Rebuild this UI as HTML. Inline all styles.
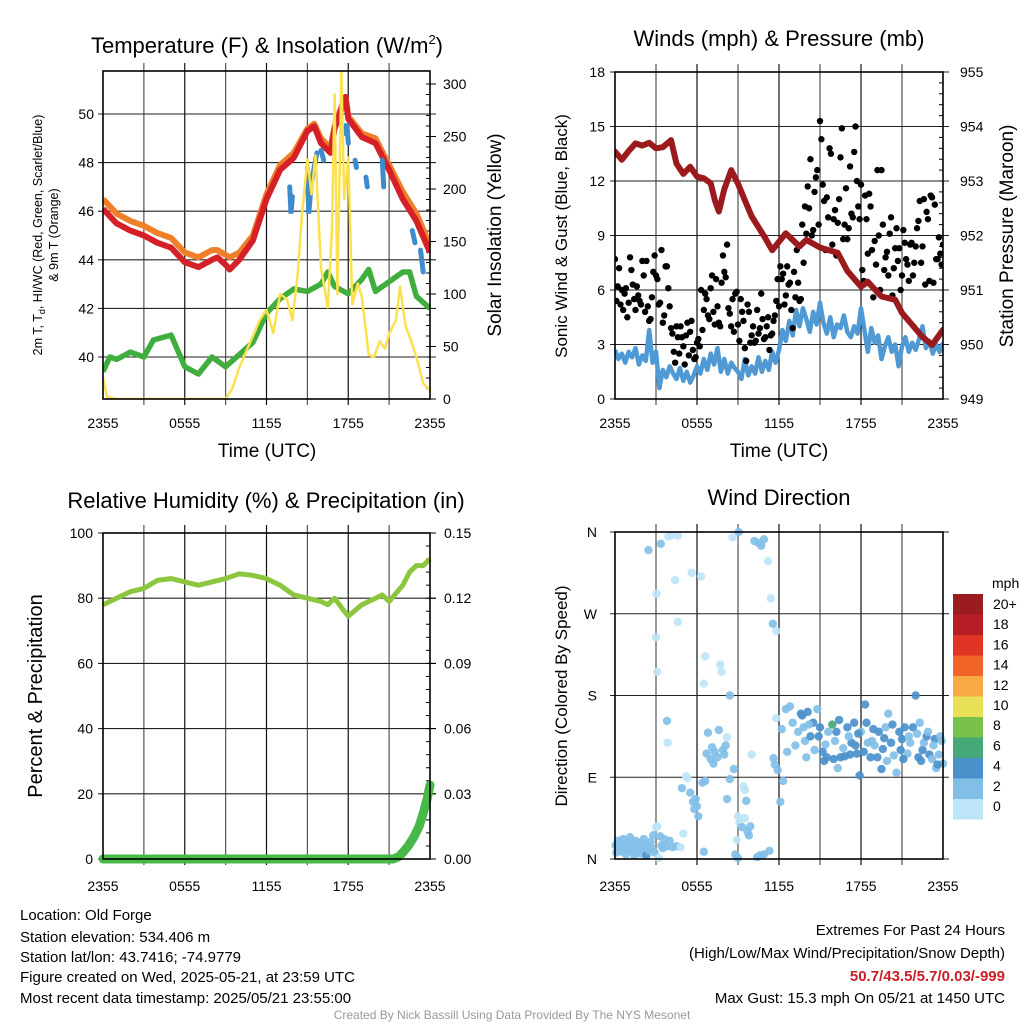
<!DOCTYPE html>
<html><head><meta charset="utf-8">
<style>
html,body{margin:0;padding:0;background:#fff;}
svg{display:block;font-family:"Liberation Sans",Arial,sans-serif;}
</style></head>
<body>
<svg id="c" width="1024" height="1024" viewBox="0 0 1024 1024">
<rect x="0" y="0" width="1024" height="1024" fill="#fff"/>
<text x="267" y="53" font-size="22" text-anchor="middle">Temperature (F) &amp; Insolation (W/m<tspan font-size="13" dy="-9">2</tspan><tspan dy="9">)</tspan></text>
<text x="779" y="46" font-size="22" text-anchor="middle">Winds (mph) &amp; Pressure (mb)</text>
<text x="266" y="508" font-size="22" text-anchor="middle">Relative Humidity (%) &amp; Precipitation (in)</text>
<text x="779" y="505" font-size="22" text-anchor="middle">Wind Direction</text>

<text x="267" y="457" font-size="19" text-anchor="middle">Time (UTC)</text>
<text x="779" y="457" font-size="19" text-anchor="middle">Time (UTC)</text>

<text transform="translate(42,235) rotate(-90)" font-size="12.5" text-anchor="middle">2m T, T<tspan font-size="9" dy="3">d</tspan><tspan dy="-3">, HI/WC (Red, Green, Scarlet/Blue)</tspan></text>
<text transform="translate(58,235) rotate(-90)" font-size="12.5" text-anchor="middle">&amp; 9m T (Orange)</text>
<text transform="translate(501,235) rotate(-90)" font-size="19" text-anchor="middle">Solar Insolation (Yellow)</text>
<text transform="translate(567,236) rotate(-90)" font-size="17" text-anchor="middle">Sonic Wind &amp; Gust (Blue, Black)</text>
<text transform="translate(1013,236) rotate(-90)" font-size="19" text-anchor="middle">Station Pressure (Maroon)</text>
<text transform="translate(42,696) rotate(-90)" font-size="20" text-anchor="middle">Percent &amp; Precipitation</text>
<text transform="translate(567,696) rotate(-90)" font-size="17" text-anchor="middle">Direction (Colored By Speed)</text>

<g font-size="15">
<text x="20" y="920">Location: Old Forge</text>
<text x="20" y="942">Station elevation: 534.406 m</text>
<text x="20" y="962">Station lat/lon: 43.7416; -74.9779</text>
<text x="20" y="982">Figure created on Wed, 2025-05-21, at 23:59 UTC</text>
<text x="20" y="1003">Most recent data timestamp: 2025/05/21 23:55:00</text>
</g>
<g font-size="15" text-anchor="end">
<text x="1005" y="935">Extremes For Past 24 Hours</text>
<text x="1005" y="958">(High/Low/Max Wind/Precipitation/Snow Depth)</text>
<text x="1005" y="981" fill="#c8202a" font-weight="bold">50.7/43.5/5.7/0.03/-999</text>
<text x="1005" y="1003">Max Gust: 15.3 mph On 05/21 at 1450 UTC</text>
</g>
<text x="512" y="1019" font-size="12" fill="#999" text-anchor="middle">Created By Nick Bassill Using Data Provided By The NYS Mesonet</text>
</svg>
<script>
// ---------- Panel 1 data ----------
const tTimes = [0,1,2,3,4,5,6,7,8,8.4,9,9.3,10,11,12,13,14,15,15.5,16,16.7,17,17.5,17.8,18,19,20,21,22,23,24];
const redT   = [46.1,45.5,45.2,45.0,44.7,44.5,43.9,43.7,44.0,44.1,43.8,43.6,44.0,44.8,46.5,47.7,48.2,49.3,49.5,48.8,48.4,49.4,50.2,50.7,49.8,49.05,48.8,47.7,46.5,45.6,44.3];
const orangeT= [46.5,45.9,45.6,45.4,45.1,44.9,44.3,44.1,44.4,44.4,44.2,44.1,44.3,45.0,46.7,47.9,48.4,49.4,49.6,49.0,48.6,49.5,50.3,50.7,49.9,49.2,49.0,47.9,46.8,45.9,44.6];
const dewTimes = [0,0.5,1,2,3,3.7,5,6,7,8,9,10,11,12,13,14,15,16,16.5,17,18,19,19.5,20,21,22,22.5,23,24];
const dewT   = [39.4,40.0,39.9,40.2,40.0,40.7,40.9,39.6,39.3,40.0,39.6,40.1,40.6,41.8,42.4,42.8,42.7,43.0,43.5,42.9,42.6,43.2,43.6,42.7,43.1,43.5,43.5,42.5,42.0];
const hiTimes = [13.7,13.8,13.9,null,15.0,15.1,15.3,15.7,null,16.0,16.2,null,17.7,17.9,18.0,null,18.5,18.6,null,19.3,19.4,null,20.5,20.6,null,22.7,22.9,null,23.3,23.5];
const hiVals  = [47.0,45.9,46.6,null,47.8,45.9,47.2,48.4,null,48.5,48.1,null,49.2,49.6,48.8,null,48.1,47.8,null,47.4,47.0,null,48.1,47.0,null,45.2,44.7,null,44.4,43.5];
const solTimes = [0,0.3,1,9,9.5,10,10.5,11,11.5,12,12.5,13,13.5,13.9,14.3,14.6,15,15.3,15.6,16,16.5,16.8,17,17.2,17.5,17.7,18,18.3,18.7,19,19.5,19.9,20.3,20.7,21,21.5,21.8,22.2,22.6,23,23.5,24];
const solVals  = [20,2,0,0,10,30,45,60,75,85,63,100,95,75,120,175,228,195,232,125,87,160,290,100,311,190,230,90,110,97,42,40,55,48,62,75,107,70,56,40,15,8];
const tempTicks = [40,42,44,46,48,50];
const solTicks = [0,50,100,150,200,250,300];
const timeLabels = ["2355","0555","1155","1755","2355"];
// ---------- Panel 2 data ----------
const presTimes = [0,0.5,1,1.5,2,2.5,3,3.5,4.1,4.5,5,5.5,6,6.5,7,7.3,7.6,8,8.5,9,9.5,10,10.5,11,11.5,12.5,13.5,14,15,16.3,17,18,18.5,19.5,20.5,21,22.5,23.2,24];
const presVals  = [953.54,953.39,953.55,953.69,953.65,953.7,953.6,953.62,953.75,953.32,953.13,953.26,953.08,953.05,952.96,952.65,952.44,952.85,953.2,952.95,952.65,952.35,952.15,951.95,951.73,952.04,951.8,951.92,951.78,951.68,951.35,951.06,951.15,950.88,950.82,950.58,950.14,949.99,950.27];
const sonicVals = [2.7,2.2,2.5,2.0,2.6,2.3,2.8,1.9,2.4,2.1,3.8,2.0,
2.6,0.6,1.6,1.2,1.8,1.4,1.1,1.7,1.0,1.5,0.9,1.3,
1.8,1.4,2.2,1.6,2.5,1.9,2.8,1.5,2.2,1.4,2.0,1.7,
1.5,1.1,2.2,1.3,1.8,1.4,2.3,1.5,2.1,1.6,2.6,2.0,
2.7,3.8,3.2,4.3,3.5,4.9,4.0,5.0,4.4,3.7,4.8,4.1,
5.3,4.2,3.6,4.5,3.4,4.1,3.9,4.6,3.7,3.4,4.0,3.6,
5.0,3.8,2.6,3.9,3.1,3.5,2.2,2.9,3.4,2.6,3.0,1.8,
2.9,3.4,2.6,3.1,2.7,3.3,4.0,2.8,3.2,2.5,3.0,2.6,3.1];
const gustA = [7.7,6.2,5.2,4.9,6.1,5.3,7.1,5.5,6.2,5.4,7.6,
4.8,5.1,4.4,7.0,6.8,5.2,8.2,4.6,7.3,5.1,
3.6,2.0,3.4,4.0,2.9,3.5,2.4,4.3,2.2,3.1,
2.9,3.8,5.8,4.6,6.1,4.8,6.6,4.2,6.4,7.0,
8.5,4.7,5.5,5.8,4.1,5.5,4.3,2.1,4.8,3.5,
3.1,4.9,3.9,4.4,3.4,4.5,3.5,4.3,5.4,5.1,
6.6,5.2,7.3,6.4,3.9,5.6,6.4,5.5,7.5,9.1,
10.5,9.0,11.4,12.6,15.3,11.8,8.2,10.0,13.5,9.9,
7.9,11.0,14.9,9.6,8.8,12.8,10.0,15.0,10.6,11.8,
6.5,9.9,11.3,8.2,8.7,12.6,6.0,9.6,7.8,6.8,
10.0,7.2,9.4,8.3,6.8,8.6,7.4,8.5,6.8,8.4,
9.8,7.5,11.0,10.3,6.5,11.1,10.7,7.7,8.0,8.5];
const gustB = [5.4,7.2,6.0,5.8,4.5,7.8,6.3,4.9,5.7,5.2,
6.8,7.6,4.3,5.6,7.9,6.6,5.3,4.2,7.3,6.1,
3.9,2.6,4.0,2.5,3.4,1.9,4.2,3.7,2.7,2.3,
3.3,6.0,4.9,5.5,4.4,6.8,4.1,5.1,4.0,7.9,
6.7,5.0,4.0,3.7,5.9,3.2,4.8,2.8,5.2,3.1,
4.0,3.2,3.6,5.8,3.3,4.0,2.7,3.6,4.6,6.6,
7.3,6.9,5.7,6.3,4.9,7.0,8.2,5.4,9.6,10.6,
11.7,13.2,9.3,12.2,9.6,14.3,10.9,11.1,13.8,8.5,
10.4,9.7,13.3,8.8,11.6,9.4,10.2,13.6,12.0,9.9,
7.1,11.2,8.0,10.6,5.6,7.4,9.0,12.6,7.1,8.1,
9.1,5.7,8.3,7.6,6.0,9.3,7.7,6.5,8.6,7.5,
9.4,10.9,8.4,6.3,9.9,11.2,6.4,7.7,8.9,7.4];
const windTicks = [0,3,6,9,12,15,18];
const presTicks = [949,950,951,952,953,954,955];
// ---------- Panel 3 data ----------
const rhTimes = [0,1,2,3,4,5,6,7,8,9,10,11,12,13,14,15,16,16.5,17,17.7,18,19,20,20.5,21,22,22.5,23,23.5,24];
const rhVals  = [78,80,82,83,85.5,86,85,84,85,86,87.5,87,86,84,81,80,79,78,80,76,74.5,78,80,81,79,84,88,90,90,92];
const prTimes = [0,21.3,21.7,22,22.4,22.8,23.2,23.5,23.8,24];
const prVals  = [0,0,0.001,0.003,0.006,0.010,0.015,0.021,0.028,0.034];
const rhTicks = [0,20,40,60,80,100];
const prTicks = ["0.00","0.03","0.06","0.09","0.12","0.15"];
// ---------- Panel 4 data ----------
const dirT = [0.05,0.1,0.2,0.3,0.4,0.5,0.6,0.7,0.8,0.9,1.0,1.1,1.2,1.3,1.4,1.5,1.6,1.7,1.8,1.9,2.0,2.1,2.2,2.3,2.4,2.5,2.6,2.7,2.8,2.9,3.0,3.1,3.2,3.3,3.4,3.5,3.6,3.8,4.0,4.2,4.5,4.8,5.0,
2.45,3.35,3.9,4.1,4.6,3.05,3.0,3.1,3.8,3.85,4.4,4.6,5.6,6.3,6.6,6.5,7.7,7.8,8.4,8.6,9.05,10.0,10.2,10.5,10.7,10.9,11.2,11.4,11.55,11.8,
4.9,5.2,5.3,5.5,5.7,5.8,6.0,6.1,5.9,6.4,6.6,6.7,6.8,7.0,7.1,7.3,7.5,7.6,7.9,8.0,8.1,8.2,8.2,8.4,8.7,7.2,9.0,9.1,9.3,9.5,9.7,9.9,8.9,8.8,9.0,9.4,9.5,9.6,9.8,10.4,10.6,10.9,11.3,6.5,
11.6,11.7,11.9,12.3,12.1,11.8,12.2,12.5,12.8,13.0,13.4,13.6,13.7,13.9,14.1,14.3,14.5,14.6,14.8,15.0,15.2,15.3,15.5,15.6,16.0,16.2,16.4,16.5,16.8,17.0,17.2,17.3,17.5,17.7,17.9,18.0,18.3,18.4,18.5,18.7,18.9,19.0,19.3,19.5,19.6,19.8,20.0,20.2,20.4,20.6,20.8,21.0,21.2,21.4,21.6,21.8,22.0,22.1,22.3,22.5,22.6,22.8,23.0,23.2,23.4,23.5,23.7,23.9,24.0,
13.2,13.8,14.2,14.9,15.4,16.1,16.7,17.1,17.6,18.2,18.8,19.2,19.7,20.3,20.9,21.5,22.2,22.9,23.3,23.8,12.6,14.0,16.3,17.8,19.9,21.1,22.4,23.6,15.9];
const dirV = [15,7,20,12,17,8,22,14,5,18,11,24,9,16,4,20,13,8,18,6,14,22,10,4,15,9,19,12,26,7,35,36,1,25,15,12,22,14,20,13,14,13,28,
340,347,355,356,356,292,244,206,152,128,307,261,315,311,223,193,214,206,180,354,360,115,350,348,345,352,328,287,259,251,
78,91,89,73,63,55,58,47,66,84,86,116,139,110,123,118,112,142,120,115,125,134,66,88,99,105,47,40,35,45,30,36,21,5,1,80,76,64,26,2,4,5,9,8,
111,104,98,86,63,155,143,165,168,150,140,160,158,130,162,135,150,120,165,145,118,108,112,140,110,140,153,112,113,145,115,128,150,116,92,140,170,150,128,112,143,125,140,99,121,145,160,128,114,95,140,132,145,116,128,145,180,138,150,120,128,135,115,110,132,100,115,130,105,
125,145,148,135,126,130,122,135,125,118,130,112,133,148,120,135,112,140,125,135,118,112,100,138,108,110,108,104,148];
const dirS = [2,2,2,2,2,2,2,2,2,2,2,2,2,2,2,2,2,2,2,2,2,2,2,4,2,2,2,2,2,2,0,0,0,2,2,2,2,2,2,2,2,0,0,
2,2,0,0,0,0,0,0,2,0,0,0,0,0,0,0,0,0,2,0,2,0,2,2,2,2,0,0,2,0,
2,0,0,2,2,2,2,2,2,2,2,2,2,2,2,2,2,2,2,2,2,0,2,2,2,2,0,0,2,0,2,2,0,2,2,0,0,2,2,2,2,2,2,2,
2,2,2,2,2,0,2,2,2,2,2,4,4,2,4,4,4,2,2,4,4,4,4,2,4,4,4,4,4,4,4,4,4,4,4,2,4,4,2,4,4,2,4,4,4,2,2,4,2,2,4,4,4,2,2,4,4,2,2,4,2,4,4,2,4,2,2,2,2,
2,2,2,4,2,2,2,2,4,4,2,4,4,4,4,2,4,2,2,2,2,2,2,4,2,4,4,4,6];
const cbLabels = ["20+","18","16","14","12","10","8","6","4","2","0"];
const cbColors = ["#9a1c1f","#b81d25","#e03427","#f06428","#f9a944","#e8e056","#78c24c","#46a877","#4a91cc","#82bfe8","#bde5f8"];
const dirLabels = ["N","E","S","W","N"];

// ---------- drawing ----------
const NS="http://www.w3.org/2000/svg";
const svg=document.getElementById('c');
function mk(tag,attrs,parent){const e=document.createElementNS(NS,tag);for(const k in attrs)e.setAttribute(k,attrs[k]);(parent||svg).appendChild(e);return e;}
function pathFrom(xs,ys,fx,fy){let d="",pen=false;for(let i=0;i<xs.length;i++){if(xs[i]===null||ys[i]===null){pen=false;continue;}d+=(pen?"L":"M")+fx(xs[i]).toFixed(1)+","+fy(ys[i]).toFixed(1);pen=true;}return d;}

function frame(x0,x1,y0,y1,name){
  const g=mk('g',{});
  
  
  for(let i=1;i<8;i++){const x=x0+(x1-x0)*i/8;mk('line',{x1:x,x2:x,y1:y0-8,y2:y1+6,stroke:(i%2?'#555':'#111'),'stroke-width':1.2},g);}
  return g;
}
function hgrid(g,x0,x1,y){mk('line',{x1:x0-5,x2:x1+6,y1:y,y2:y,stroke:'#222','stroke-width':1.1},g);}
function border(x0,x1,y0,y1,name){const r=mk('rect',{x:x0,y:y0,width:x1-x0,height:y1-y0,fill:'none',stroke:'#000','stroke-width':1.6});
  
  }
function xlabels(x0,x1,y,name){const g=mk('g',{'font-size':14,'text-anchor':'middle'});
  
  
  timeLabels.forEach((l,i)=>{const t=mk('text',{x:x0+(x1-x0)*i/4,y:y},g);t.textContent=l;});}
function rightMinor(g,x1,ya,yb,n){for(let i=0;i<=n;i++){const y=ya+(yb-ya)*i/n;mk('line',{x1:x1-4,x2:x1,y1:y,y2:y,stroke:'#000','stroke-width':1},g);}}

// Panel 1
{
const X0=103,X1=430,Y0=71,Y1=399;
const fx=t=>X0+t*(X1-X0)/24, fy=v=>114+(50-v)*24.3, fs=s=>399-s*1.05;
const g=frame(X0,X1,Y0,Y1,'temperature');
tempTicks.forEach(v=>hgrid(g,X0,X1,fy(v)));
rightMinor(g,X1,fs(0),fs(300),30);
const tl=mk('g',{'font-size':14,'text-anchor':'end'});


tempTicks.forEach(v=>{const t=mk('text',{x:X0-9,y:fy(v)+5},tl);t.textContent=v;});
const sl=mk('g',{'font-size':14,'text-anchor':'start'});


solTicks.forEach(v=>{mk('line',{x1:X1,x2:X1+6,y1:fs(v),y2:fs(v),stroke:'#000'},sl);const t=mk('text',{x:X1+13,y:fs(v)+5},sl);t.textContent=v;});
const cp=mk('clipPath',{id:'cp1'});mk('rect',{x:X0,y:Y0-2,width:X1-X0,height:Y1-Y0+2},cp);
const lg=mk('g',{'clip-path':'url(#cp1)'});
const o=mk('path',{d:pathFrom(tTimes,orangeT,fx,fy),fill:'none',stroke:'#f07f2a','stroke-width':6,'stroke-linejoin':'round'},lg);


const r=mk('path',{d:pathFrom(tTimes,redT,fx,fy),fill:'none',stroke:'#d42026','stroke-width':6,'stroke-linejoin':'round'},lg);


const h=mk('path',{d:pathFrom(hiTimes,hiVals,fx,fy),fill:'none',stroke:'#3f8ccc','stroke-width':5,'stroke-linecap':'round'},lg);


const dw=mk('path',{d:pathFrom(dewTimes,dewT,fx,fy),fill:'none',stroke:'#3fae3f','stroke-width':5.5,'stroke-linejoin':'round'},lg);


const s=mk('path',{d:pathFrom(solTimes,solVals,fx,fs),fill:'none',stroke:'#fbe14f','stroke-width':2.5,'stroke-linejoin':'round'},lg);


border(X0,X1,Y0,Y1,'temperature');
xlabels(X0,X1,428,'temperature');
}
// Panel 2
{
const X0=615,X1=943,Y0=72,Y1=399;
const fx=t=>X0+t*(X1-X0)/24, fw=w=>399-w*(327/18), fp=p=>72+(955-p)*(327/6);
const g=frame(X0,X1,Y0,Y1,'winds');
windTicks.forEach(v=>hgrid(g,X0,X1,fw(v)));
rightMinor(g,X1,fp(949),fp(955),30);
const wl=mk('g',{'font-size':14,'text-anchor':'end'});


windTicks.forEach(v=>{const t=mk('text',{x:X0-10,y:fw(v)+5},wl);t.textContent=v;});
const pl=mk('g',{'font-size':14,'text-anchor':'start'});


presTicks.forEach(v=>{const t=mk('text',{x:X1+17,y:fp(v)+5},pl);t.textContent=v;});
const cp=mk('clipPath',{id:'cp2'});mk('rect',{x:X0,y:Y0,width:X1-X0,height:Y1-Y0},cp);
const lg=mk('g',{'clip-path':'url(#cp2)'});
const st=sonicVals.map((v,i)=>i*0.25);
const sw=mk('path',{d:pathFrom(st,sonicVals,fx,fw),fill:'none',stroke:'#4f9ad4','stroke-width':4.5,'stroke-linejoin':'round'},lg);


const gg=mk('g',{fill:'#000'},lg);


gustA.forEach((v,i)=>{const c=mk('circle',{cx:fx(i*0.2),cy:fw(v),r:3.2},gg);

});
gustB.forEach((v,i)=>{const c=mk('circle',{cx:fx(0.1+i*0.2),cy:fw(v),r:3.2},gg);

});
const pr=mk('path',{d:pathFrom(presTimes,presVals,fx,fp),fill:'none',stroke:'#9a1a1e','stroke-width':6,'stroke-linejoin':'round','stroke-linecap':'round'},lg);


border(X0,X1,Y0,Y1,'winds');
xlabels(X0,X1,428,'winds');
}
// Panel 3
{
const X0=103,X1=430,Y0=533,Y1=859;
const fx=t=>X0+t*(X1-X0)/24, fr=v=>859-v*3.26, fq=p=>859-p/0.15*326;
const g=frame(X0,X1,Y0,Y1,'humidity');
rhTicks.forEach(v=>hgrid(g,X0,X1,fr(v)));
rightMinor(g,X1,fq(0),fq(0.15),25);
const rl=mk('g',{'font-size':14,'text-anchor':'end'});


rhTicks.forEach(v=>{const t=mk('text',{x:X0-10,y:fr(v)+5},rl);t.textContent=v;});
const ql=mk('g',{'font-size':14,'text-anchor':'start'});


prTicks.forEach(v=>{const y=fq(parseFloat(v));mk('line',{x1:X1,x2:X1+6,y1:y,y2:y,stroke:'#000'},ql);const t=mk('text',{x:X1+14,y:y+5},ql);t.textContent=v;});
const rh=mk('path',{d:pathFrom(rhTimes,rhVals,fx,fr),fill:'none',stroke:'#8cc63f','stroke-width':5,'stroke-linejoin':'round'});


const p=mk('path',{d:pathFrom(prTimes,prVals,fx,fq),fill:'none',stroke:'#48b848','stroke-width':9,'stroke-linejoin':'round','stroke-linecap':'round'});


border(X0,X1,Y0,Y1,'humidity');
xlabels(X0,X1,891,'humidity');
}
// Panel 4
{
const X0=615,X1=943,Y0=532,Y1=859;
const fx=t=>X0+t*(X1-X0)/24, fd=d=>859-d*(327/360);
const g=frame(X0,X1,Y0,Y1,'direction');
[0,90,180,270,360].forEach(v=>hgrid(g,X0,X1,fd(v)));
const dl=mk('g',{'font-size':14,'text-anchor':'end'});


dirLabels.forEach((l,i)=>{const t=mk('text',{x:X0-18,y:fd(i*90)+5},dl);t.textContent=l;});
const sg=mk('g',{'fill-opacity':0.92});


dirT.forEach((t,i)=>{const ci=10-Math.min(10,Math.floor(dirS[i]/2));
const c=mk('circle',{cx:fx(t),cy:fd(dirV[i]),r:4.2,fill:cbColors[ci]},sg);

});
border(X0,X1,Y0,Y1,'direction');
xlabels(X0,X1,891,'direction');
// colorbar
const cb=mk('g',{});


const u=mk('text',{x:992,y:588,'font-size':14},cb);u.textContent='mph';
cbColors.forEach((col,i)=>{mk('rect',{x:953,y:594+i*20.5,width:30,height:20.5,fill:col},cb);
const t=mk('text',{x:993,y:609+i*20.2,'font-size':14},cb);t.textContent=cbLabels[i];});
}
</script>
</body></html>
